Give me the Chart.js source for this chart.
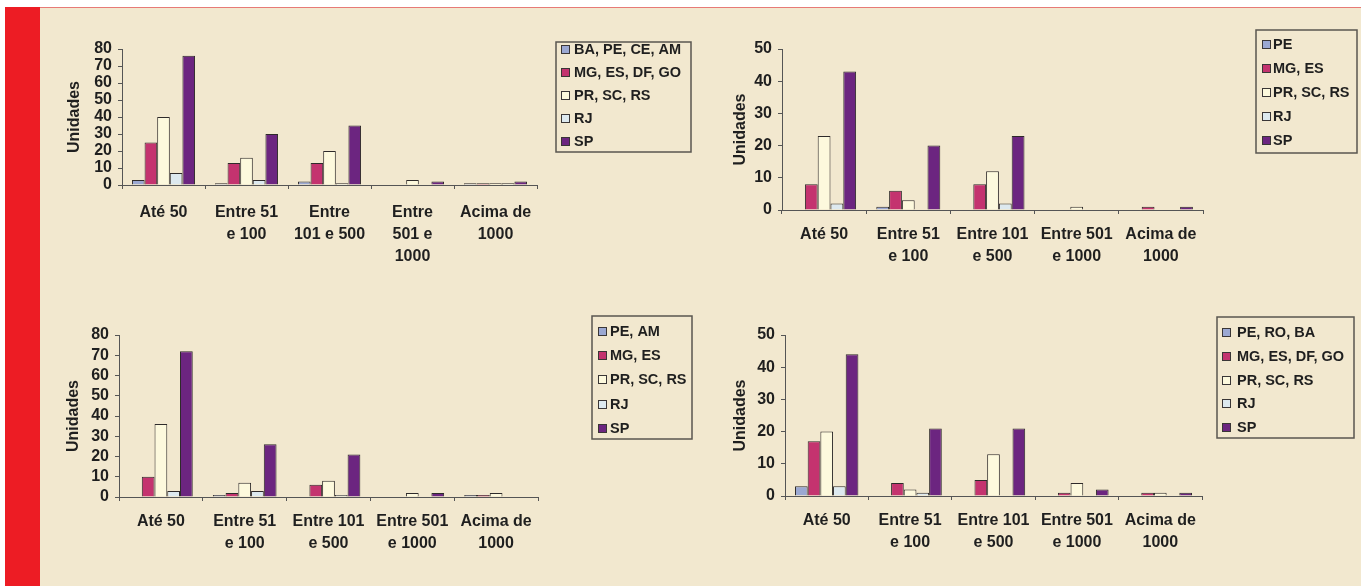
<!DOCTYPE html>
<html lang="pt">
<head>
<meta charset="utf-8">
<title>Unidades por faixa</title>
<script src="https://cdn.jsdelivr.net/npm/chart.js@4.4.1/dist/chart.umd.min.js"></script>
<style>
  html, body { margin: 0; padding: 0; }
  body { width: 1361px; height: 586px; position: relative; overflow: hidden; background: #ffffff; }
  #panel { position: absolute; left: 5px; top: 7px; width: 1356px; height: 579px; background: #f2e8cf; border-top: 1px solid #e77a76; box-sizing: border-box; }
  #band { position: absolute; left: 5px; top: 7px; width: 35px; height: 579px; background: #ed1c24; }
  canvas { position: absolute; }
</style>
</head>
<body>
<div id="panel"></div>
<div id="band"></div>
<canvas id="c1"></canvas>
<canvas id="c2"></canvas>
<canvas id="c3"></canvas>
<canvas id="c4"></canvas>
<script>
// Faixas de tamanho (categorias do eixo X)
const faixasA = [["Até 50"], ["Entre 51", "e 100"], ["Entre", "101 e 500"], ["Entre", "501 e", "1000"], ["Acima de", "1000"]];
const faixasB = [["Até 50"], ["Entre 51", "e 100"], ["Entre 101", "e 500"], ["Entre 501", "e 1000"], ["Acima de", "1000"]];

// Gráfico 1
const g1Nomes = ["BA, PE, CE, AM", "MG, ES, DF, GO", "PR, SC, RS", "RJ", "SP"];
const g1Norte = [3, 1, 2, 0, 1];
const g1Centro = [25, 13, 13, 0, 1];
const g1Sul = [40, 16, 20, 3, 1];
const g1RJ = [7, 3, 1, 0, 1];
const g1SP = [76, 30, 35, 2, 2];
const g1Ticks = [0, 10, 20, 30, 40, 50, 60, 70, 80];

// Gráfico 2
const g2Nomes = ["PE", "MG, ES", "PR, SC, RS", "RJ", "SP"];
const g2Norte = [0, 1, 0, 0, 0];
const g2Centro = [8, 6, 8, 0, 1];
const g2Sul = [23, 3, 12, 1, 0];
const g2RJ = [2, 0, 2, 0, 0];
const g2SP = [43, 20, 23, 0, 1];
const g2Ticks = [0, 10, 20, 30, 40, 50];

// Gráfico 3
const g3Nomes = ["PE, AM", "MG, ES", "PR, SC, RS", "RJ", "SP"];
const g3Norte = [0, 1, 0, 0, 1];
const g3Centro = [10, 2, 6, 0, 1];
const g3Sul = [36, 7, 8, 2, 2];
const g3RJ = [3, 3, 1, 0, 0];
const g3SP = [72, 26, 21, 2, 0];
const g3Ticks = [0, 10, 20, 30, 40, 50, 60, 70, 80];

// Gráfico 4
const g4Nomes = ["PE, RO, BA", "MG, ES, DF, GO", "PR, SC, RS", "RJ", "SP"];
const g4Norte = [3, 0, 0, 0, 0];
const g4Centro = [17, 4, 5, 1, 1];
const g4Sul = [20, 2, 13, 4, 1];
const g4RJ = [3, 1, 0, 0, 0];
const g4SP = [44, 21, 21, 2, 1];
const g4Ticks = [0, 10, 20, 30, 40, 50];

const cores = ["#9ba8d2", "#c4336f", "#fdf9dd", "#dde9ef", "#6c2580"];
const borda = "#2e2a2a";
const texto = "#1f1f1f";
const familia = '"Liberation Sans", Arial, sans-serif';

// Legenda em caixa, desenhada em posição fixa
const legendaCaixa = {
  id: 'legendaCaixa',
  afterDraw(chart, args, o) {
    const ctx = chart.ctx;
    ctx.save();
    ctx.strokeStyle = '#5a5650';
    ctx.lineWidth = 1.5;
    ctx.strokeRect(o.x, o.y, o.w, o.h);
    ctx.font = 'bold 14.5px ' + familia;
    ctx.textBaseline = 'middle';
    ctx.textAlign = 'left';
    chart.data.datasets.forEach((ds, i) => {
      const cy = Math.round(o.y + o.first + i * o.gap);
      ctx.fillStyle = ds.backgroundColor;
      ctx.fillRect(o.markX, cy - 4, 8, 8);
      ctx.strokeStyle = '#3a3636';
      ctx.lineWidth = 1;
      ctx.strokeRect(o.markX + 0.5, cy - 3.5, 8, 8);
      ctx.fillStyle = texto;
      ctx.fillText(ds.label, o.textX, cy + 1);
    });
    ctx.restore();
  }
};

function grafico(id, box, plot, tituloX, padX, ticks, faixas, nomes, series, leg) {
  const cv = document.getElementById(id);
  cv.width = box.w; cv.height = box.h;
  cv.style.left = box.x + 'px'; cv.style.top = box.y + 'px';
  cv.style.width = box.w + 'px'; cv.style.height = box.h + 'px';
  const padLeft = tituloX - box.x - 9.6;
  const yLarg = plot.L - box.x - padLeft;
  const xAlt = box.y + box.h - plot.B;
  const tickFont = { family: familia, weight: 'bold', size: 16, lineHeight: 1.375 };
  return new Chart(cv, {
    type: 'bar',
    data: {
      labels: faixas,
      datasets: series.map((vals, i) => ({
        label: nomes[i],
        data: vals,
        backgroundColor: cores[i],
        borderColor: borda,
        borderWidth: 1,
        borderSkipped: 'start',
        categoryPercentage: 0.76,
        barPercentage: 1.0
      }))
    },
    options: {
      responsive: false,
      animation: false,
      devicePixelRatio: 1,
      layout: { padding: { left: padLeft, top: plot.T - box.y, right: box.x + box.w - plot.R, bottom: 0 } },
      plugins: {
        legend: { display: false },
        tooltip: { enabled: false },
        legendaCaixa: {
          x: leg.x - box.x, y: leg.y - box.y, w: leg.w, h: leg.h,
          first: leg.first, gap: leg.gap,
          markX: leg.markX - box.x, textX: leg.textX - box.x
        }
      },
      scales: {
        x: {
          offset: true,
          afterFit(s) { s.height = xAlt; },
          grid: { display: true, drawOnChartArea: false, drawTicks: true, tickLength: 4, color: '#555', offset: true },
          border: { display: true, color: '#555', width: 1 },
          ticks: { color: texto, font: tickFont, padding: padX, maxRotation: 0, autoSkip: false }
        },
        y: {
          min: ticks[0],
          max: ticks[ticks.length - 1],
          afterFit(s) { s.width = yLarg; },
          afterBuildTicks(s) { s.ticks = ticks.map(v => ({ value: v })); },
          grid: { display: true, drawOnChartArea: false, drawTicks: true, tickLength: 4, color: '#555' },
          border: { display: true, color: '#555', width: 1 },
          ticks: { color: texto, font: { family: familia, weight: 'bold', size: 16, lineHeight: 1 }, padding: 6, autoSkip: false },
          title: { display: true, text: 'Unidades', color: texto, padding: 0, font: { family: familia, weight: 'bold', size: 16 } }
        }
      }
    },
    plugins: [legendaCaixa]
  });
}

grafico('c1', { x: 40, y: 8, w: 660, h: 278 }, { L: 122, T: 49, R: 537, B: 185 }, 75, 13, g1Ticks, faixasA, g1Nomes,
  [g1Norte, g1Centro, g1Sul, g1RJ, g1SP],
  { x: 556, y: 42, w: 135, h: 110, first: 7, gap: 23, markX: 561, textX: 574 });

grafico('c2', { x: 700, y: 8, w: 661, h: 278 }, { L: 782, T: 49, R: 1203, B: 210 }, 741, 10, g2Ticks, faixasB, g2Nomes,
  [g2Norte, g2Centro, g2Sul, g2RJ, g2SP],
  { x: 1256, y: 30, w: 101, h: 123, first: 14, gap: 24, markX: 1262, textX: 1273 });

grafico('c3', { x: 40, y: 290, w: 660, h: 296 }, { L: 119, T: 335, R: 538, B: 497 }, 74, 10, g3Ticks, faixasB, g3Nomes,
  [g3Norte, g3Centro, g3Sul, g3RJ, g3SP],
  { x: 592, y: 316, w: 100, h: 123, first: 15, gap: 24.2, markX: 598, textX: 610 });

grafico('c4', { x: 700, y: 290, w: 661, h: 296 }, { L: 785, T: 335, R: 1202, B: 496 }, 741, 10, g4Ticks, faixasB, g4Nomes,
  [g4Norte, g4Centro, g4Sul, g4RJ, g4SP],
  { x: 1217, y: 317, w: 137, h: 121, first: 15, gap: 23.75, markX: 1222, textX: 1237 });
</script>
</body>
</html>
